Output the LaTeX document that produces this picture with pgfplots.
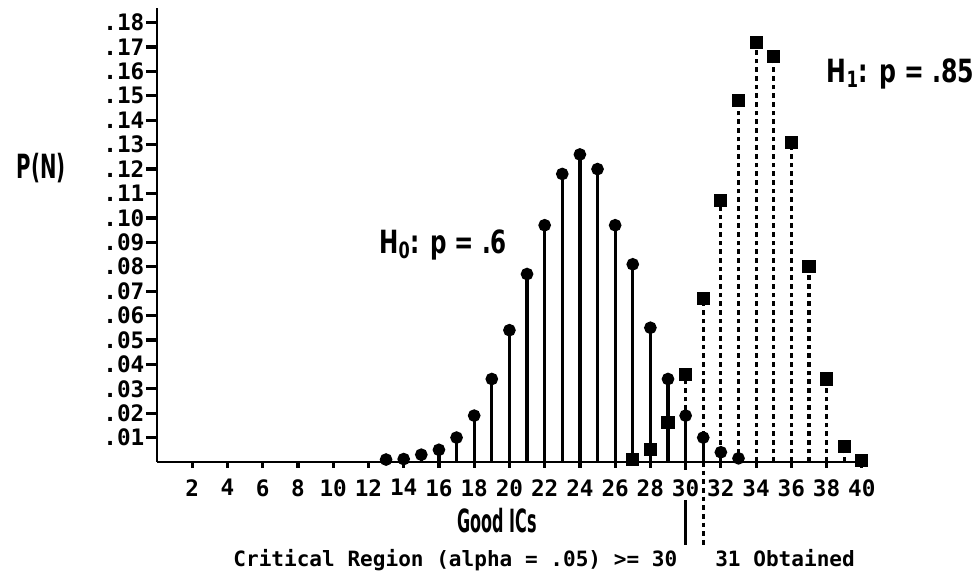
\documentclass[border=0pt]{standalone}
\usepackage{pgfplots}
\pgfplotsset{compat=1.18}
\usepackage{fontspec}
\setmainfont{DejaVu Sans Mono}
\newfontfamily\condfont{DejaVu Sans}

% binomial pmf of good ICs, n = 40
\pgfplotstableread{
n p
13 0.001
14 0.0012
15 0.003
16 0.005
17 0.010
18 0.019
19 0.034
20 0.054
21 0.077
22 0.097
23 0.118
24 0.126
25 0.120
26 0.097
27 0.081
28 0.055
29 0.034
30 0.019
31 0.010
32 0.004
33 0.0015
}\hzero
\pgfplotstableread{
n p
27 0.001
28 0.005
29 0.016
30 0.036
31 0.067
32 0.107
33 0.148
34 0.172
35 0.166
36 0.131
37 0.080
38 0.034
39 0.0065
40 0.0005
}\hone

\begin{document}
\begin{tikzpicture}
\begin{axis}[
  name=ax,
  scale only axis,
  width=533.25pt, height=340.5pt,
  xmin=0, xmax=40.35, ymin=0, ymax=0.186,
  enlargelimits=false,
  axis lines=left,
  axis line style={-, line width=2.2pt},
  tick align=outside,
  every tick/.style={black, line width=2.4pt},
  xtick style={/pgfplots/major tick length=4.5pt},
  ytick style={/pgfplots/major tick length=8.25pt},
  xtick={2,4,...,40},
  xticklabels={2,4,6,8,10,12,14,16,18,20,22,24,26,28,30,32,34,36,38,40},
  ytick={0.01,0.02,0.03,0.04,0.05,0.06,0.07,0.08,0.09,0.10,0.11,0.12,0.13,0.14,0.15,0.16,0.17,0.18},
  yticklabels={.01,.02,.03,.04,.05,.06,.07,.08,.09,.10,.11,.12,.13,.14,.15,.16,.17,.18},
  ticklabel style={font=\fontsize{17}{17}\selectfont\bfseries, inner sep=0pt},
  xticklabel style={anchor=north, yshift=-8.5pt},
  yticklabel style={anchor=east, xshift=-5pt},
  clip=false,
]
\addplot[ycomb, black, line width=2.4pt, mark=*, mark size=3.5pt] table {\hzero};
\addplot[ycomb, black, line width=2.4pt, dash pattern=on 3.5pt off 3pt,
  mark=square*, mark size=3.7pt, mark options={solid, rounded corners=1pt}] table {\hone};

% critical region and obtained value markers
\draw[line width=2.4pt] (axis cs:30,0) -- (axis cs:30,-0.0033);
\draw[line width=2.4pt] (axis cs:30,-0.0156) -- (axis cs:30,-0.034);
\draw[line width=2.4pt, dash pattern=on 3.5pt off 3pt] (axis cs:31,0) -- (axis cs:31,-0.034);

\node[font=\condfont\bfseries\fontsize{25}{25}\selectfont] at (axis cs:-6.56,0.1205) {\scalebox{0.59}[1]{P(N)}};
\node[font=\condfont\bfseries\fontsize{24}{24}\selectfont] at (axis cs:16.24,0.0889) {\scalebox{0.72}[1]{H\textsubscript{0}: p = .6}};
\node[font=\condfont\bfseries\fontsize{24}{24}\selectfont] at (axis cs:42.2,0.159) {\scalebox{0.74}[1]{H\textsubscript{1}: p = .85}};
\node[font=\condfont\bfseries\fontsize{24}{24}\selectfont] at (axis cs:19.3,-0.0238) {\scalebox{0.5}[1]{Good ICs}};
\node[font=\fontsize{15.8}{16}\selectfont\bfseries] at (axis cs:21.97,-0.0402) {Critical Region (alpha = .05) >= 30\ \ \ 31 Obtained};
\end{axis}
\pgfresetboundingbox
\path (ax.south west) ++(-117.75pt,-86.25pt) rectangle ++(732.75pt,432.75pt);
\end{tikzpicture}
\end{document}
